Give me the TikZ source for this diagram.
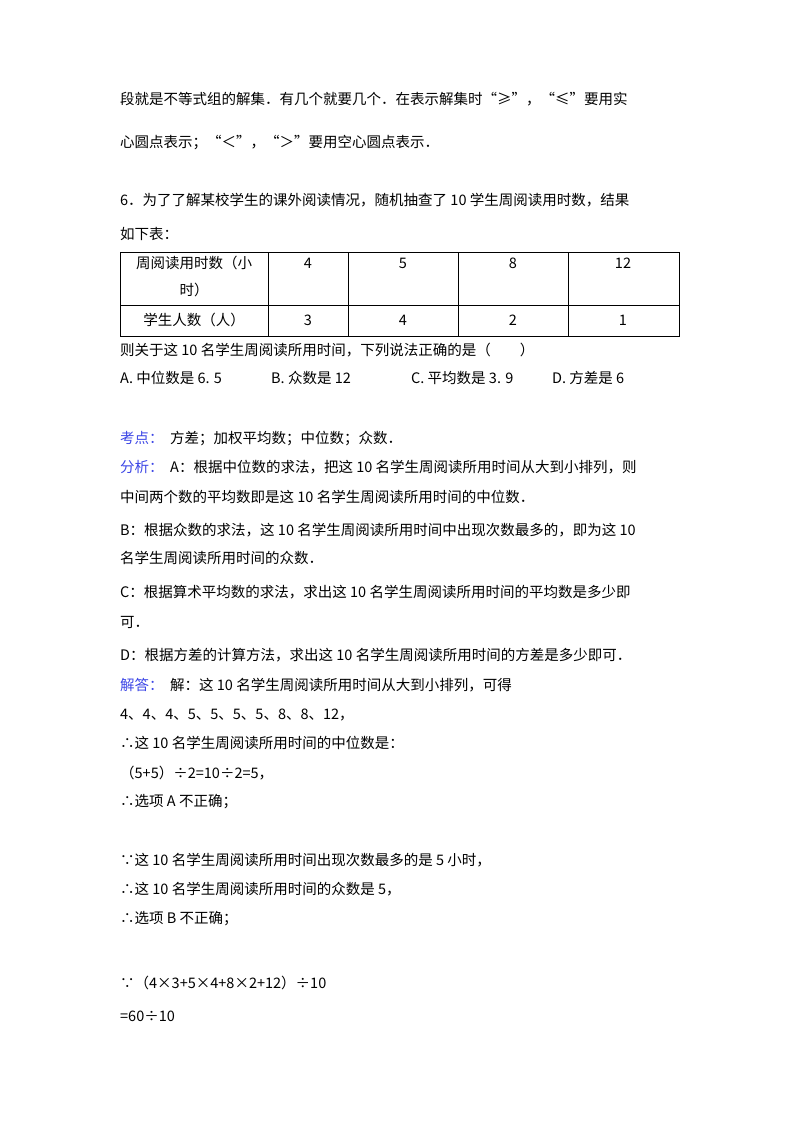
\documentclass[tikz,border=0pt]{standalone}
\usepackage{fontspec}
\setmainfont{Noto Sans CJK SC}
\definecolor{lbl}{RGB}{60,70,230}
\begin{document}
\begin{tikzpicture}[x=1pt,y=-1pt,
  ln/.style={anchor=base west,inner sep=0pt,font=\fontsize{14.5}{16}\selectfont},
  cell/.style={anchor=base,inner sep=0pt,font=\fontsize{14.5}{16}\selectfont}]
\useasboundingbox[fill=white] (0,0) rectangle (800,1132);
\node[ln] (l1) at (120,104) {段就是不等式组的解集．有几个就要几个．在表示解集时“≥”，“≤”要用实};
\node[ln] (l2) at (120,147) {心圆点表示；“＜”，“＞”要用空心圆点表示．};
\node[ln] (l3) at (120,205) {6．为了了解某校学生的课外阅读情况，随机抽查了 10 学生周阅读用时数，结果};
\node[ln] (l4) at (120,239) {如下表：};
% table
\draw[line width=0.8pt] (120,252) rectangle (679,336);
\draw[line width=0.8pt] (120,305) -- (679,305);
\foreach \x in {268,348,458,568} \draw[line width=0.8pt] (\x,252) -- (\x,336);
\node[cell] (c1) at (194,268) {周阅读用时数（小};
\node[cell] (c2) at (194,295) {时）};
\node[cell] (c3) at (308,268) {4};
\node[cell] (c4) at (403,268) {5};
\node[cell] (c5) at (513,268) {8};
\node[cell] (c6) at (623,268) {12};
\node[cell] (c7) at (194,325) {学生人数（人）};
\node[cell] (c8) at (308,325) {3};
\node[cell] (c9) at (403,325) {4};
\node[cell] (c10) at (513,325) {2};
\node[cell] (c11) at (623,325) {1};
\node[ln] (l5) at (120,355) {则关于这 10 名学生周阅读所用时间，下列说法正确的是（\quad\quad）};
\node[ln] (l6a) at (120,383) {A. 中位数是 6. 5};
\node[ln] (l6b) at (271,383) {B. 众数是 12};
\node[ln] (l6c) at (411,383) {C. 平均数是 3. 9};
\node[ln] (l6d) at (552,383) {D. 方差是 6};
\node[ln] (l7) at (120,443) {\textcolor{lbl}{考点：}\ \ 方差；加权平均数；中位数；众数．};
\node[ln] (l8) at (120,472) {\textcolor{lbl}{分析：}\ \ A：根据中位数的求法，把这 10 名学生周阅读所用时间从大到小排列，则};
\node[ln] (l9) at (120,502) {中间两个数的平均数即是这 10 名学生周阅读所用时间的中位数．};
\node[ln] (l10) at (120,535) {B：根据众数的求法，这 10 名学生周阅读所用时间中出现次数最多的，即为这 10};
\node[ln] (l11) at (120,563) {名学生周阅读所用时间的众数．};
\node[ln] (l12) at (120,597) {C：根据算术平均数的求法，求出这 10 名学生周阅读所用时间的平均数是多少即};
\node[ln] (l13) at (120,627) {可．};
\node[ln] (l14) at (120,660) {D：根据方差的计算方法，求出这 10 名学生周阅读所用时间的方差是多少即可．};
\node[ln] (l15) at (120,690) {\textcolor{lbl}{解答：}\ \ 解：这 10 名学生周阅读所用时间从大到小排列，可得};
\node[ln] (l16) at (120,719) {4、4、4、5、5、5、5、8、8、12，};
\node[ln] (l17) at (120,748) {∴这 10 名学生周阅读所用时间的中位数是：};
\node[ln] (l18) at (120,778) {（5+5）÷2=10÷2=5，};
\node[ln] (l19) at (120,806) {∴选项 A 不正确；};
\node[ln] (l20) at (120,865) {∵这 10 名学生周阅读所用时间出现次数最多的是 5 小时，};
\node[ln] (l21) at (120,894) {∴这 10 名学生周阅读所用时间的众数是 5，};
\node[ln] (l22) at (120,923) {∴选项 B 不正确；};
\node[ln] (l23) at (120,988) {∵（4×3+5×4+8×2+12）÷10};
\node[ln] (l24) at (120,1021) {=60÷10};
\end{tikzpicture}
\end{document}
